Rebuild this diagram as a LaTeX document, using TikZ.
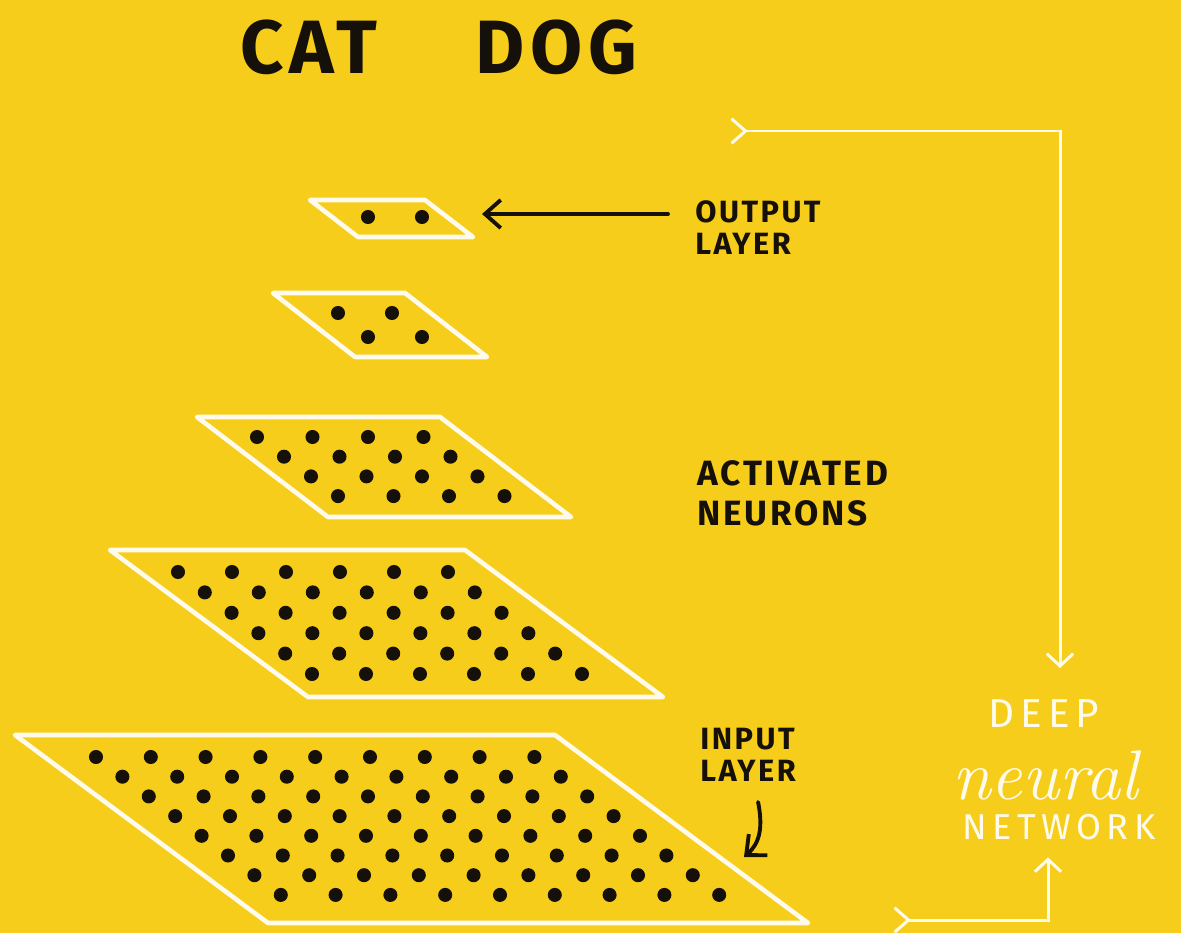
\documentclass[tikz,border=0pt]{standalone}
\usepackage{fontspec}
\usetikzlibrary{arrows.meta}
\newfontfamily\hand[LetterSpace=8]{Fira Sans}
\newfontfamily\chalk[LetterSpace=15]{Fira Sans}
\definecolor{paper}{RGB}{247,205,27}
\definecolor{chalkwhite}{RGB}{255,251,236}
\definecolor{ink}{RGB}{22,16,10}

\begin{document}
\begin{tikzpicture}[
		x=0.02cm, y=-0.02cm,
		layer/.style={draw=chalkwhite, line width=2.6pt, line join=round},
		neuron/.style={fill=ink},
		title/.style={ink, inner sep=0pt, font=\hand\bfseries\fontsize{43}{43}\selectfont},
		label/.style={ink, inner sep=0pt, align=left, font=\hand\bfseries\fontsize{17.5}{18.2}\selectfont},
		chalktext/.style={chalkwhite, inner sep=0pt},
		pointer/.style={ink, line width=2.2pt, line cap=round, -{Straight Barb[length=9pt,width=16pt]}},
		loop/.style={chalkwhite, line width=1.7pt, {Straight Barb[reversed,length=8pt,width=14pt]}-{Straight Barb[length=7pt,width=15pt]}}
	]
		\fill[paper] (0,0) rectangle (1181,933);
		\useasboundingbox (0,0) rectangle (1181,933);
		% layers: top left corner, top width, slant
		\foreach \x/\y/\w/\dx/\dy in {310/200/115/48/37, 273/293/132/82/64,
			197/417/243/131/100, 110/550/355/198/147, 15/735/540/253/188}
			\draw[layer] (\x,\y) -- ++(\w,0) -- ++(\dx,\dy) -- ++(-\w,0) -- cycle;
		% neurons: first dot, row shift, spacing, rows, columns
		\foreach \x/\y/\sx/\sy/\sp/\nr/\nc in {368/217/0/0/54/1/2, 338/313/30/24/54/2/2,
			257/437/27/19.7/55.5/4/4, 178/572/26.8/20.4/54/6/6, 96/757/26.4/19.7/54.8/8/9}
			\foreach \r in {1,...,\nr}
				\foreach \c in {1,...,\nc}
					\fill[neuron] (\x+\r*\sx-\sx+\c*\sp-\sp, \y+\r*\sy-\sy) circle (4pt);
		\node[title, anchor=north west] (cat) at (240,20) {CAT};
		\node[title, anchor=north west] (dog) at (475,20) {DOG};
		\node[label, anchor=north west] (outlbl) at (695,200) {OUTPUT\\LAYER};
		\node[label, anchor=north west, font=\hand\bfseries\fontsize{20}{22.7}\selectfont]
			(actlbl) at (697,460) {ACTIVATED\\NEURONS};
		\node[label, anchor=north west] (inlbl) at (700,728) {INPUT\\LAYER};
		\node[chalktext, anchor=north, font=\chalk\fontsize{23}{23}\selectfont] (deep) at (1044,699) {DEEP};
		\node[chalktext, anchor=base, font=\itshape\fontsize{40}{40}\selectfont] (neural) at (1045,799) {neural};
		\node[chalktext, anchor=north, font=\chalk\fontsize{20.5}{20.5}\selectfont] (network) at (1059,814) {NETWORK};
		\coordinate (outtip) at (482,214);
		\coordinate (intip) at (744,857);
		\draw[pointer] ([shift={(-27,14)}]outlbl.north west) -- (outtip);
		\draw[pointer] ([shift={(10,20)}]inlbl.south) .. controls +(5,25) and (760,843) .. (intip);
		\coordinate (fromtop) at (730,131);
		\coordinate (frominput) at (893,920);
		\draw[loop] (fromtop) -| ([shift={(16,-31)}]deep.north);
		\draw[loop] (frominput) -| ([shift={(-11,17)}]network.south);
	\end{tikzpicture}
\end{document}
